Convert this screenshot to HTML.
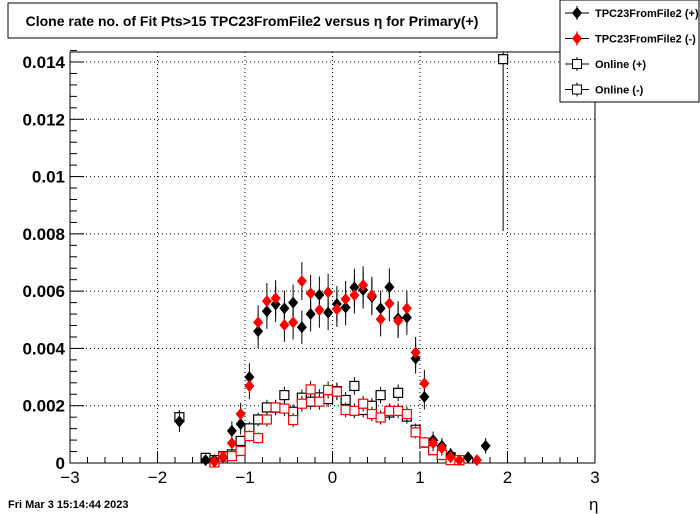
<!DOCTYPE html>
<html><head><meta charset="utf-8"><style>
body{margin:0;background:#fff;font-family:"Liberation Sans",sans-serif}
svg{display:block}
</style></head><body>
<svg id="c" width="700" height="514" xmlns="http://www.w3.org/2000/svg">
<rect x="0" y="0" width="700" height="514" fill="#fff"/>
<rect x="8" y="3" width="489" height="35" fill="#fff" stroke="#000"/>
<text x="252" y="26" font-size="14" font-weight="bold" text-anchor="middle">Clone rate no. of Fit Pts&gt;15 TPC23FromFile2 versus η for Primary(+)</text>
<g id="plot"></g>
<text x="8" y="508" font-size="11" font-weight="bold">Fri Mar  3 15:14:44 2023</text>
<text x="589" y="510" font-size="17">η</text>
</svg>
<script>
const xs=[-1.75,-1.45,-1.35,-1.25,-1.15,-1.05,-0.95,-0.85,-0.75,-0.65,-0.55,-0.45,-0.35,-0.25,-0.15,-0.05,0.05,0.15,0.25,0.35,0.45,0.55,0.65,0.75,0.85,0.95,1.05,1.15,1.25,1.35,1.45,1.55,1.65,1.75,1.95];
const tpcPos=[0.00145,0.0001,0.0001,0.0002,0.00112,0.00136,0.0030,0.0046,0.0053,0.00554,0.0054,0.0056,0.00474,0.0052,0.00587,0.00525,0.00555,0.00543,0.00613,0.00604,0.0058,0.0054,0.00614,0.00505,0.00508,0.00365,0.00231,0.0008,0.0006,0.0003,null,0.0002,null,0.0006,null];
const tpcNeg=[null,null,0.00005,0.00022,0.00069,0.00171,0.00269,0.00491,0.00565,0.00575,0.00482,0.00491,0.00635,0.00592,0.00534,0.00596,0.00537,0.00572,0.00586,0.00621,0.00586,0.00502,0.00557,0.00496,0.0054,0.00386,0.00278,0.0007,0.00052,0.0002,0.0001,null,0.0001,null,null];
const onlPos=[0.0016,0.00018,0.0001,0.00024,0.0003,0.00077,0.00121,0.00152,0.00194,0.00193,0.00237,0.00179,0.00228,0.00214,0.00229,0.00223,0.00251,0.0022,0.00269,0.00185,0.002,0.00237,0.00176,0.00245,0.00162,0.00116,0.00071,0.00045,0.00028,0.0002,0.0001,null,null,null,0.0141];
const onlNeg=[null,null,0.00002,0.00022,0.00024,0.00042,0.00094,0.00087,0.00152,0.00194,0.0019,0.0015,0.00207,0.00257,0.00214,0.00255,0.00249,0.00185,0.00182,0.00207,0.00171,0.00159,0.00182,0.00182,0.00171,0.00107,0.00072,0.00045,0.00028,0.0001,0.0001,null,null,null,null];
const xTicks=[-3,-2,-1,0,1,2,3];
const yTicks=[0,0.002,0.004,0.006,0.008,0.01,0.012,0.014];
const yLabels=["0","0.002","0.004","0.006","0.008","0.01","0.012","0.014"];
const L=70,R=595,T=52,B=463;
const X=v=>L+(v+3)/6*(R-L);
const Y=v=>B-v/0.014*(B-62);
const NS="http://www.w3.org/2000/svg";
const g=document.getElementById('plot');
function mk(t,a,p){const e=document.createElementNS(NS,t);for(const k in a)e.setAttribute(k,a[k]);(p||g).appendChild(e);return e;}
// grid
xTicks.forEach(t=>{if(t>-3&&t<3){const l=mk('line',{x1:X(t),x2:X(t),y1:T,y2:B,stroke:'#000','stroke-dasharray':'1,3','stroke-width':1});}});
yTicks.forEach(t=>{if(t>0){const l=mk('line',{x1:L,x2:R,y1:Y(t),y2:Y(t),stroke:'#000','stroke-dasharray':'1,3','stroke-width':1});}});
const fr=mk('rect',{x:L,y:T,width:R-L,height:B-T,fill:'none',stroke:'#000'});

// x ticks
for(let v=-3;v<=3.001;v+=0.2){const major=Math.abs(v-Math.round(v))<1e-6;mk('line',{x1:X(v),x2:X(v),y1:B,y2:B-(major?12:6),stroke:'#000'});}
xTicks.forEach(t=>{const e=mk('text',{x:X(t),y:B+20,'font-size':17,'text-anchor':'middle'});e.textContent=(t<0?'\u2212':'')+Math.abs(t);});
for(let v=0;v<=0.0145;v+=0.0004){const major=Math.abs(v/0.002-Math.round(v/0.002))<1e-6;mk('line',{x1:L,x2:L+(major?14:7),y1:Y(v),y2:Y(v),stroke:'#000'});}
yTicks.forEach((t,i)=>{const e=mk('text',{x:L-5,y:Y(t)+6,'font-size':17,'font-weight':'bold','text-anchor':'end'});e.textContent=yLabels[i];});
function err(v,diamond){return diamond?0.0005*Math.sqrt(v/0.005)+0.0001:0.00022*Math.sqrt(v/0.002)+0.00005;}
function series(arr,color,diamond,name){
 arr.forEach((v,i)=>{if(v==null)return;const cx=X(xs[i]),cy=Y(v);
  let e=err(v,diamond);if(v>0.01)e=0.006;
  const eb=mk('line',{x1:cx,x2:cx,y1:Math.max(T,Y(v+e)),y2:Math.min(B,Y(v-e)),stroke:'#000'});
  
  let m;
  if(diamond)m=mk('polygon',{points:`${cx},${cy-6} ${cx+5},${cy} ${cx},${cy+6} ${cx-5},${cy}`,fill:color});
  else m=mk('rect',{x:cx-4.5,y:cy-4.5,width:9,height:9,fill:'#fff',stroke:color,'stroke-width':1.2});
  });
}
series(onlPos,'#000',false,'online-pos');
series(onlNeg,'#f00',false,'online-neg');
series(tpcPos,'#000',true,'tpc-pos');
series(tpcNeg,'#f00',true,'tpc-neg');
// legend
const lg=mk('g',{});
mk('rect',{x:560,y:0,width:139,height:102,fill:'#fff',stroke:'#000'},lg);
const ent=[['TPC23FromFile2 (+)','#000',true],['TPC23FromFile2 (-)','#f00',true],['Online (+)','#000',false],['Online (-)','#000',false]];
ent.forEach((en,i)=>{const cy=13+i*25.5;const eg=mk('g',{},lg);
 mk('line',{x1:565,x2:589,y1:cy,y2:cy,stroke:'#000'},eg);mk('line',{x1:577,x2:577,y1:cy-7,y2:cy+7,stroke:'#000'},eg);
 if(en[2])mk('polygon',{points:`577,${cy-6} 582,${cy} 577,${cy+6} 572,${cy}`,fill:en[1]},eg);
 else mk('rect',{x:572.5,y:cy-4.5,width:9,height:9,fill:'#fff',stroke:en[1]},eg);
 const t=mk('text',{x:595,y:cy+4,'font-size':11,'font-weight':'bold'},eg);t.textContent=en[0];});
</script>
</body></html>
